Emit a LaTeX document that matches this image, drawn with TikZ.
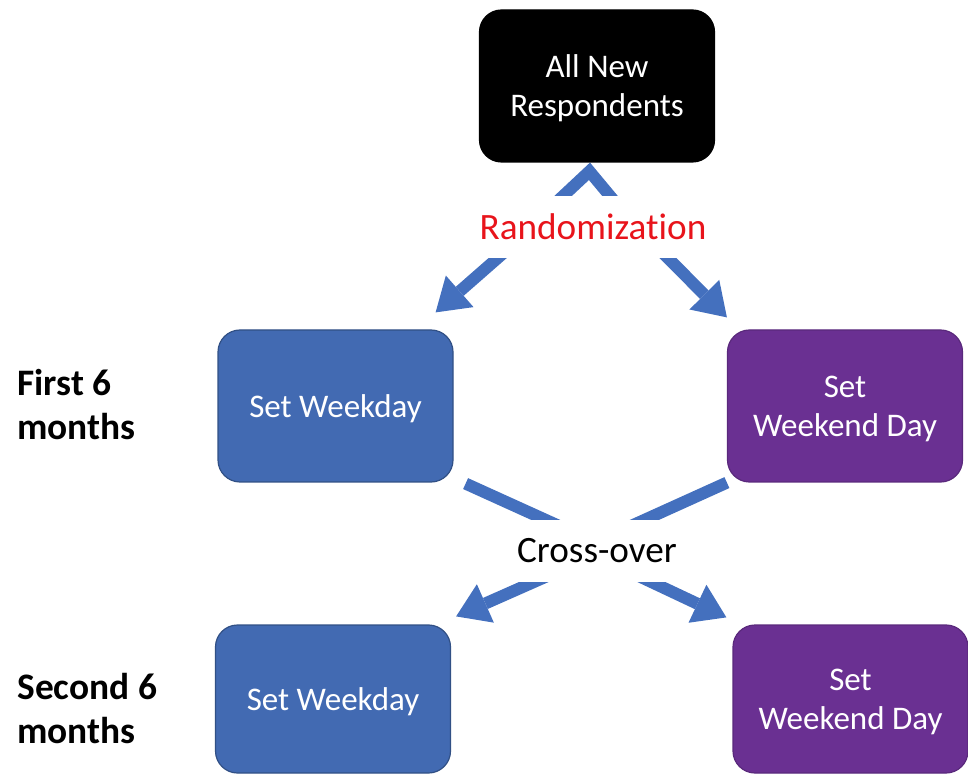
\documentclass[tikz,border=0pt]{standalone}
\usepackage{fontspec}
\setmainfont[Ligatures=NoCommon, Contextuals=NoAlternate]{Carlito}
\usetikzlibrary{arrows.meta, positioning, backgrounds}
\definecolor{boxblue}{RGB}{66,106,178}
\definecolor{boxpurple}{RGB}{106,48,146}
\definecolor{arrblue}{RGB}{68,112,190}
\definecolor{randred}{RGB}{232,20,27}
\tikzset{
x=0.5pt, y=-0.5pt, % one unit is one pixel of the sketch, y runs down
groupbox/.style={rounded corners=11pt, minimum width=117.5pt, minimum height=76pt, align=center, text=white, text depth=0pt, font=\fontsize{16.5}{19.5}\selectfont, line width=0.6pt},
weekday/.style={groupbox, fill=boxblue, draw=boxblue!75!black},
weekend/.style={groupbox, fill=boxpurple, draw=boxpurple!85!black},
period/.style={anchor=west, align=left, inner sep=0pt, font=\fontsize{18.7}{22}\bfseries\selectfont},
midtext/.style={fill=white, font=\fontsize{18.6}{22}\selectfont, minimum width=128pt, minimum height=31pt}, % white box hides the arrow ends
arr/.style={draw=arrblue, line width=6pt, -{Triangle[length=16pt,width=21pt,line width=0pt]}},
bar/.style={draw=arrblue, line width=6pt},
chev/.style={draw=arrblue, line width=1pt, shorten <=27pt, -{Straight Barb[length=18pt,width=34pt,line width=6pt]}},
}

\begin{document}
\begin{tikzpicture}
\useasboundingbox (0,0) rectangle (968,774);

\node[groupbox, fill=black, draw=black] (top) at (597,86) {All New\\Respondents};
\node[midtext, text=randred] (rand) at (593,227) {Randomization};

\node[weekday] (wkd1) at (335.5,406) {Set Weekday};
\node[weekend] (wke1) at (845,406) {Set\\Weekend Day};
\node[midtext] (cross) at (597,551) {Cross-over};
\node[weekday, minimum height=74pt] (wkd2) at (333,699) {Set Weekday};
\node[weekend, minimum height=74pt] (wke2) at (850.5,699) {Set\\Weekend Day};

\node[period] (first) at (17,405) {First 6\\months};
\node[period] (second) at (17,709) {Second 6\\months};

\begin{scope}[on background layer]
\draw[chev] ([xshift=-3.5pt]rand.center) -- ([xshift=-3.5pt]top.south);
\draw[arr] ([shift={(-69,8)}]rand.center) -- ([shift={(-18,-17)}]wkd1.north east);
\draw[arr] ([shift={(52,8)}]rand.center) -- ([shift={(0,-12)}]wke1.north west);
\draw[bar] ([shift={(12,1)}]wkd1.south east) -- ([shift={(-7,-11)}]cross.center);
\draw[bar] (wke1.south west) -- ([shift={(3,-11)}]cross.center);
\draw[arr] ([shift={(-36,19)}]cross.center) -- ([shift={(5,-8)}]wkd2.north east);
\draw[arr] ([shift={(31,20)}]cross.center) -- ([shift={(-6,-7)}]wke2.north west);
\end{scope}
\end{tikzpicture}
\end{document}
